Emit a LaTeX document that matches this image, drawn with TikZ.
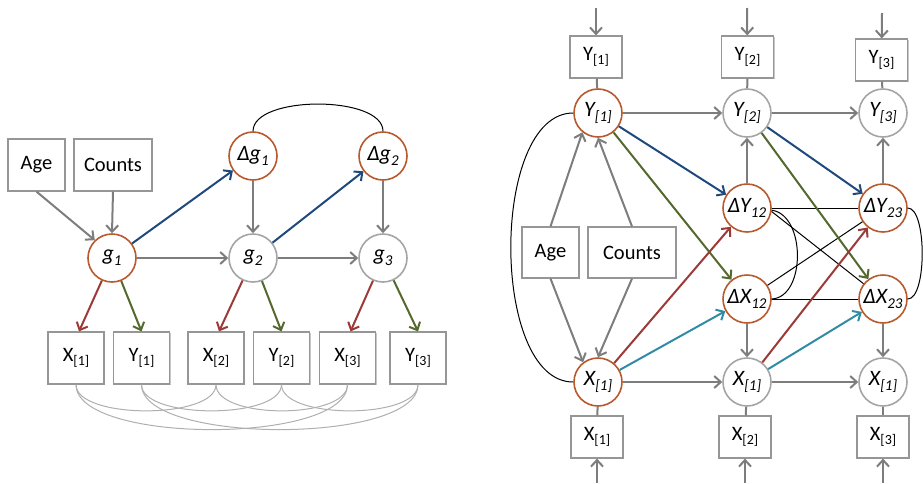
\documentclass[tikz,border=0pt]{standalone}
\usepackage{fontspec}
\setmainfont{Carlito}
\usetikzlibrary{arrows.meta,shadows}

\definecolor{keyring}{RGB}{183,90,45}
\definecolor{plainring}{RGB}{165,165,165}
\definecolor{boxline}{RGB}{150,150,150}
\definecolor{pathgray}{RGB}{125,125,125}
\definecolor{covgray}{RGB}{175,175,175}
\definecolor{pathblue}{RGB}{31,73,125}
\definecolor{pathgreen}{RGB}{84,105,45}
\definecolor{pathred}{RGB}{155,58,55}
\definecolor{pathteal}{RGB}{49,140,163}

% lowered, smaller index text (boxes and circles)
\newcommand{\lowidx}[1]{\raisebox{-0.22em}{\fontsize{14pt}{14pt}\selectfont #1}}
\newcommand{\latidx}[1]{\raisebox{-0.22em}{\fontsize{15pt}{15pt}\selectfont #1}}

\tikzset{
  obox/.style={draw=boxline, line width=1.2pt, fill=white, inner sep=0pt,
    minimum width=56pt, minimum height=52pt,
    font=\fontsize{20.5pt}{22pt}\selectfont,
    drop shadow={shadow xshift=1.2pt, shadow yshift=-1.2pt, opacity=0.22, fill=black}},
  lat/.style={circle, line width=1.6pt, fill=white, inner sep=0pt,
    minimum size=48pt, font=\fontsize{22pt}{24pt}\selectfont\itshape},
  keylat/.style={lat, draw=keyring},
  plainlat/.style={lat, draw=plainring},
  tip/.style={-{Straight Barb[length=6.5pt,width=12pt]}},
  garrow/.style={draw=pathgray, line width=2pt, tip},
  barrow/.style={draw=pathblue, line width=2pt, tip},
  grarrow/.style={draw=pathgreen, line width=2pt, tip},
  rarrow/.style={draw=pathred, line width=2pt, tip},
  tarrow/.style={draw=pathteal, line width=2pt, tip},
  link/.style={draw=pathgray, line width=2pt},
  cov/.style={draw=black, line width=1pt},
  lcov/.style={draw=covgray, line width=1pt},
}

\begin{document}
\begin{tikzpicture}[x=1pt,y=-1pt]
\useasboundingbox (0,0) rectangle (923,483);

% ---------------- growth model ----------------
\node[obox, minimum width=57pt] (age) at (36.5,165) {Age};
\node[obox, minimum width=78pt] (counts) at (113,165) {Counts};

\node[keylat] (Dg1) at (253,156) {Δg\latidx{1}};
\node[keylat] (Dg2) at (383,156) {Δg\latidx{2}};
\node[keylat] (g1) at (112,258) {g\latidx{1}};
\node[plainlat] (g2) at (253,258) {g\latidx{2}};
\node[plainlat] (g3) at (383,258) {g\latidx{3}};

\node[obox] (bx1) at (76,358) {X\lowidx{[1]}};
\node[obox] (by1) at (141.5,358) {Y\lowidx{[1]}};
\node[obox] (bx2) at (216,358) {X\lowidx{[2]}};
\node[obox] (by2) at (281.5,358) {Y\lowidx{[2]}};
\node[obox] (bx3) at (347.5,358) {X\lowidx{[3]}};
\node[obox] (by3) at (418,358) {Y\lowidx{[3]}};

\draw[garrow] (age.south) -- (g1.134);
\draw[garrow] (counts.south) -- (g1.north);
\draw[garrow] (g1) -- (g2);
\draw[garrow] (g2) -- (g3);
\draw[garrow] (Dg1) -- (g2);
\draw[garrow] (Dg2) -- (g3);
\draw[barrow] (g1) -- (Dg1);
\draw[barrow] (g2) -- (Dg2);
\draw[rarrow] (g1) -- ([xshift=3pt]bx1.north);
\draw[grarrow] (g1) -- (by1.north);
\draw[rarrow] (g2) -- ([xshift=3pt]bx2.north);
\draw[grarrow] (g2) -- (by2.north);
\draw[rarrow] (g3) -- ([xshift=3pt]bx3.north);
\draw[grarrow] (g3) -- (by3.north);

\draw[cov] (Dg1.north) .. controls (253,95) and (383,95) .. (Dg2.north);

% residual covariances between the measures
\draw[lcov] (bx1.south) .. controls +(0,35) and +(0,35) .. (bx2.south);
\draw[lcov] (bx2.south) .. controls +(0,35) and +(0,35) .. (bx3.south);
\draw[lcov] (by1.south) .. controls +(0,35) and +(0,35) .. (by2.south);
\draw[lcov] (by2.south) .. controls +(0,35) and +(0,35) .. (by3.south);
\draw[lcov] (bx1.south) .. controls +(0,60) and +(0,60) .. (bx3.south);
\draw[lcov] (by1.south) .. controls +(0,60) and +(0,60) .. (by3.south);

% ---------------- dual change model ----------------
\node[obox, minimum width=52pt, minimum height=42pt] (ty1) at (596,57) {Y\lowidx{[1]}};
\node[obox, minimum width=52pt, minimum height=42pt] (ty2) at (747.5,57) {Y\lowidx{[2]}};
\node[obox, minimum width=52pt, minimum height=42pt] (ty3) at (881.5,60) {Y\lowidx{[3]}};
\node[obox, minimum width=52pt, minimum height=42pt] (tx1) at (597,437) {X\lowidx{[1]}};
\node[obox, minimum width=52pt, minimum height=42pt] (tx2) at (745,437) {X\lowidx{[2]}};
\node[obox, minimum width=52pt, minimum height=42pt] (tx3) at (883,437) {X\lowidx{[3]}};

\node[obox, minimum width=57pt, minimum height=51pt] (age2) at (550.5,252.5) {Age};
\node[obox, minimum width=88pt, minimum height=51pt] (counts2) at (632,252.5) {Counts};

\node[keylat] (Y1) at (598,113) {Y\latidx{[1]}};
\node[plainlat] (Y2) at (747,113) {Y\latidx{[2]}};
\node[plainlat] (Y3) at (883,113) {Y\latidx{[3]}};
\node[keylat] (DY12) at (747,208) {ΔY\latidx{12}};
\node[keylat] (DY23) at (883,208) {ΔY\latidx{23}};
\node[keylat] (DX12) at (747,299) {ΔX\latidx{12}};
\node[keylat] (DX23) at (883,299) {ΔX\latidx{23}};
\node[keylat] (X1) at (598,382) {X\latidx{[1]}};
\node[plainlat] (X2) at (747,382) {X\latidx{[1]}};
\node[plainlat] (X3) at (883,382) {X\latidx{[1]}};

\coordinate (inY1) at (596,8);
\coordinate (inY2) at (747,8);
\coordinate (inY3) at (882,13);
\coordinate (inX1) at (597,483);
\coordinate (inX2) at (745,483);
\coordinate (inX3) at (883,483);

% covariances
\draw[cov] (Y1.west) .. controls (490,113) and (490,382) .. (X1.west);
\draw[cov] (DY12) -- (DY23);
\draw[cov] (DX12) -- (DX23);
\draw[cov] (DY12.-8) -- (DX23);
\draw[cov] (DX12) -- (DY23);
\draw[cov] (DY12.-5) .. controls (806,215) and (806,297) .. (DX12.east);
\draw[cov] (DY23.east) .. controls (927,208) and (927,299) .. (DX23.east);

% measurement links and inputs
\draw[garrow] (inY1) -- (ty1);
\draw[garrow] (inY2) -- (ty2);
\draw[garrow] (inY3) -- (ty3);
\draw[garrow] (inX1) -- (tx1);
\draw[garrow] (inX2) -- (tx2);
\draw[garrow] (inX3) -- (tx3);
\draw[link] (ty1) -- (Y1);
\draw[link] (ty2) -- (Y2);
\draw[link] (ty3) -- (Y3);
\draw[link] (tx1) -- (X1);
\draw[link] (tx2) -- (X2);
\draw[link] (tx3) -- (X3);

% covariate effects
\draw[garrow] (age2.north) -- (Y1.231);
\draw[garrow] (counts2.north) -- (Y1.south);
\draw[garrow] (age2.south) -- (X1.127);
\draw[garrow] (counts2.south) -- (X1.north);

% autoregressive and change paths
\draw[garrow] (Y1) -- (Y2);
\draw[garrow] (Y2) -- (Y3);
\draw[garrow] (X1) -- (X2);
\draw[garrow] (X2) -- (X3);
\draw[garrow] (DY12) -- (Y2);
\draw[garrow] (DY23) -- (Y3);
\draw[garrow] (DX12) -- (X2);
\draw[garrow] (DX23) -- (X3);

% coupling paths
\draw[barrow] (Y1) -- (DY12);
\draw[barrow] (Y2) -- (DY23);
\draw[grarrow] (Y1) -- (DX12);
\draw[grarrow] (Y2) -- (DX23);
\draw[rarrow] (X1) -- (DY12);
\draw[rarrow] (X2) -- (DY23);
\draw[tarrow] (X1) -- (DX12);
\draw[tarrow] (X2) -- (DX23);
\end{tikzpicture}
\end{document}
